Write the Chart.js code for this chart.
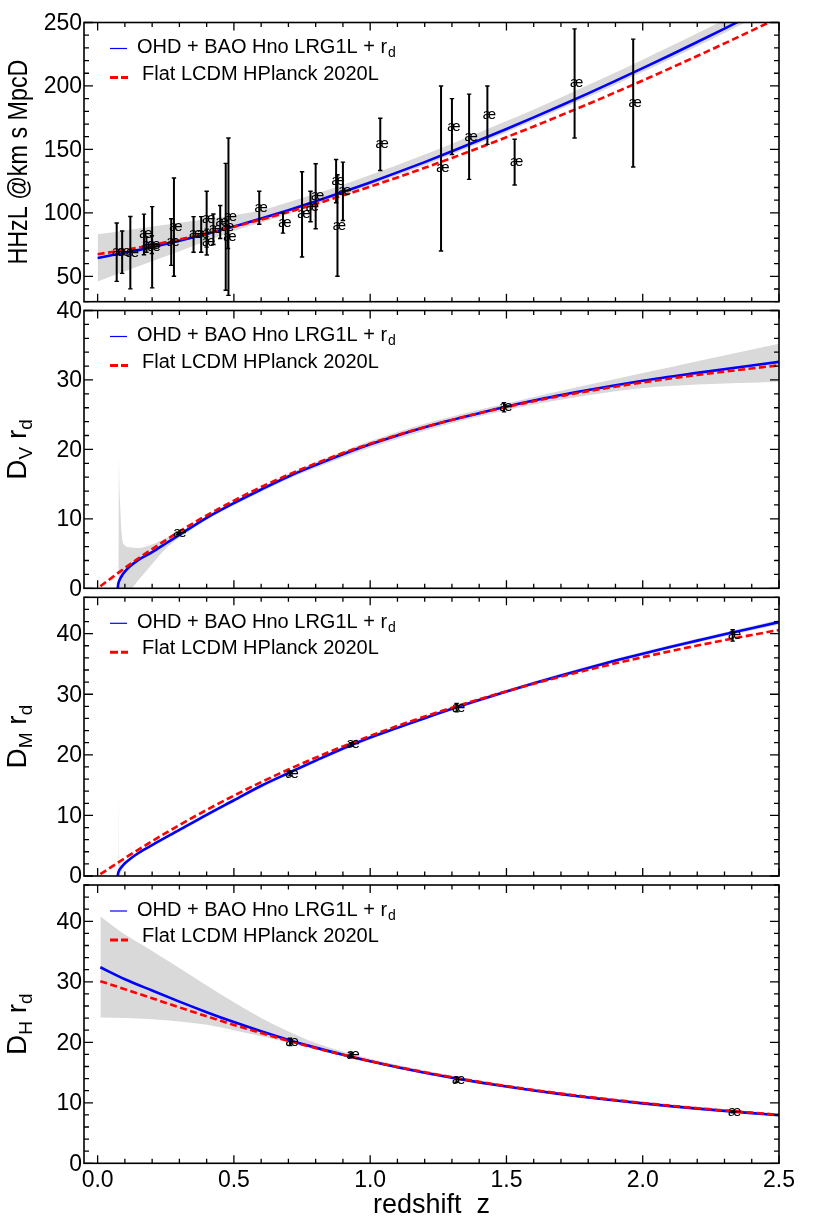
<!DOCTYPE html>
<html>
<head>
<meta charset="utf-8">
<script src="https://cdn.jsdelivr.net/npm/chart.js@4.4.1/dist/chart.umd.min.js"></script>
<style>
  html, body { margin: 0; padding: 0; background: #fff; }
  #wrap { position: relative; width: 814px; height: 1221px; }
  canvas { position: absolute; left: 0; }
</style>
</head>
<body>
<div id="wrap">
  <canvas id="hzChart" width="814" height="310" style="top:0px"></canvas>
  <canvas id="dvChart" width="814" height="304" style="top:296px"></canvas>
  <canvas id="dmChart" width="814" height="305" style="top:583px"></canvas>
  <canvas id="dhChart" width="814" height="350" style="top:871px"></canvas>
</div>
<script>
// --- Du lieu doc tu hinh ---

// Panel 1: H(z)
const hzZ = [0, 0.1, 0.2, 0.3, 0.4, 0.5, 0.6, 0.7, 0.8, 0.9, 1.0, 1.1, 1.2, 1.3, 1.4, 1.5, 1.6, 1.7, 1.8, 1.9, 2.0, 2.1, 2.2, 2.3, 2.4, 2.5];
const hzBlue = [64.5, 68.5, 73.0, 78.0, 83.4, 89.2, 95.5, 102.1, 109.1, 116.4, 124.0, 131.9, 140.0, 148.5, 157.2, 166.1, 175.2, 184.6, 194.2, 204.0, 214.0, 224.2, 234.6, 245.2, 256.0, 266.9];
const hzRed = [67.4, 70.8, 74.7, 79.1, 83.9, 89.1, 94.7, 100.7, 107.0, 113.7, 120.7, 127.9, 135.5, 143.3, 151.3, 159.6, 168.1, 176.9, 185.8, 195.0, 204.3, 213.9, 223.6, 233.5, 243.6, 253.9];
const hzBandHi = [83.2, 86.2, 89.2, 92.2, 95.2, 98.2, 102.0, 108.3, 115.0, 122.2, 129.8, 137.7, 145.9, 154.5, 163.3, 172.3, 181.5, 191.0, 200.7, 210.6, 220.7, 231.0, 241.5, 252.2, 263.2, 274.3];
const hzBandLo = [45.9, 53.9, 61.9, 69.8, 77.8, 85.8, 92.4, 99.2, 106.4, 113.8, 121.5, 129.4, 137.4, 145.9, 154.6, 163.5, 172.5, 181.8, 191.3, 201.0, 210.9, 221.0, 231.3, 241.8, 252.5, 263.3];
// diem OHD
const ohdZ = [0.07, 0.09, 0.12, 0.17, 0.179, 0.199, 0.2, 0.27, 0.28, 0.352, 0.38, 0.4, 0.4004, 0.4247, 0.4497, 0.47, 0.4783, 0.48, 0.593, 0.68, 0.75, 0.781, 0.8, 0.875, 0.88, 0.9, 1.037, 1.26, 1.3, 1.363, 1.43, 1.53, 1.75, 1.965];
const ohdH = [69, 69, 68.6, 83, 75, 75, 72.9, 77, 88.8, 83, 83, 95, 77, 87.1, 92.8, 89, 80.9, 97, 104, 92, 98.8, 105, 113.1, 125, 90, 117, 154, 135, 168, 160, 177, 140, 202, 186.5];
const ohdErr = [23, 16.7, 28.5, 16, 6, 7, 32, 18.4, 38.7, 14, 14, 22, 10.2, 12, 13, 50, 9, 62, 13, 8, 33.6, 12, 25.6, 17, 40, 23, 20.6, 65, 22, 33.6, 23, 18, 43, 50.4];

// Panel 2: D_V / r_d
const dvZBlue = [0.074, 0.075, 0.077, 0.08, 0.09, 0.1, 0.12, 0.15, 0.2, 0.25, 0.3, 0.4, 0.5, 0.6, 0.7, 0.8, 0.9, 1.0, 1.2, 1.4, 1.6, 1.8, 2.0, 2.2, 2.5];
const dvBlue = [0, 0.47, 0.82, 1.15, 1.88, 2.4, 3.2, 4.1, 5.2, 6.45, 7.7, 10.15, 12.27, 14.23, 16.1, 17.75, 19.3, 20.73, 23.2, 25.22, 27.03, 28.54, 29.89, 31.02, 32.61];
const dvZRed = [0.01, 0.05, 0.1, 0.15, 0.2, 0.3, 0.4, 0.5, 0.6, 0.7, 0.8, 0.9, 1.0, 1.2, 1.4, 1.6, 1.8, 2.0, 2.2, 2.5];
const dvRed = [0.3, 1.47, 2.93, 4.32, 5.65, 8.18, 10.5, 12.62, 14.58, 16.36, 17.98, 19.47, 20.83, 23.21, 25.22, 26.93, 28.39, 29.64, 30.72, 32.11];
const dvBandZ = [0.074, 0.0778, 0.078, 0.08, 0.083, 0.088, 0.098, 0.12, 0.15, 0.2, 0.25, 0.3, 0.4, 0.5, 0.6, 0.7, 0.8, 1.0, 1.2, 1.4, 1.5, 1.6, 1.8, 2.0, 2.2, 2.5];
const dvBandHi = [0, 0, 18.5, 14.5, 11.7, 7.9, 6.25, 5.9, 5.8, 6.3, 7.2, 8.1, 10.45, 12.55, 14.55, 16.45, 18.15, 21.2, 23.7, 25.7, 26.6, 27.55, 29.3, 31.0, 32.7, 35.2];
const dvBandLo = [0, 0, 0, 0, 0, 0, 0, 0, 1.2, 3.5, 5.7, 7.3, 9.85, 11.95, 13.9, 15.75, 17.35, 20.25, 22.7, 24.75, 25.65, 26.45, 27.8, 28.85, 29.35, 29.75];
const dvDataZ = [0.295, 1.491];
const dvData = [7.93, 26.07];
const dvDataErr = [0.15, 0.67];

// Panel 3: D_M / r_d
const dmZBlue = [0.074, 0.075, 0.077, 0.08, 0.09, 0.1, 0.12, 0.15, 0.2, 0.3, 0.4, 0.5, 0.6, 0.7, 0.8, 0.9, 1.0, 1.1, 1.2, 1.3, 1.4, 1.5, 1.6, 1.7, 1.8, 1.9, 2.0, 2.1, 2.2, 2.3, 2.4, 2.5];
const dmBlue = [0, 0.4, 0.7, 1.0, 1.6, 2.1, 2.85, 3.8, 5.1, 7.6, 10.1, 12.5, 14.9, 17.0, 19.05, 21.05, 22.85, 24.45, 26.05, 27.6, 29.05, 30.45, 31.8, 33.1, 34.35, 35.55, 36.7, 37.8, 38.85, 39.9, 40.9, 41.9];
const dZ = [0.01, 0.1, 0.2, 0.3, 0.4, 0.5, 0.6, 0.7, 0.8, 0.9, 1.0, 1.1, 1.2, 1.3, 1.4, 1.5, 1.6, 1.7, 1.8, 1.9, 2.0, 2.1, 2.2, 2.3, 2.4, 2.5];
const dmRed = [0.3, 2.95, 5.75, 8.41, 10.91, 13.27, 15.49, 17.58, 19.54, 21.39, 23.13, 24.77, 26.32, 27.78, 29.17, 30.48, 31.73, 32.91, 34.03, 35.10, 36.12, 37.10, 38.03, 38.92, 39.78, 40.60];
const dmBandZ = [0.074, 0.077, 0.0775, 0.079, 0.085, 0.1, 0.15, 0.2, 0.3, 0.5, 0.7, 1.0, 1.5, 2.0, 2.5];
const dmBandHi = [0, 0, 13, 2.5, 1.8, 2.4, 4.05, 5.35, 7.9, 12.8, 17.3, 23.15, 30.75, 37.0, 42.3];
const dmBandLo = [0, 0, 0, 0, 0.6, 1.8, 3.55, 4.85, 7.3, 12.2, 16.7, 22.55, 30.15, 36.4, 41.5];
const dmDataZ = [0.706, 0.930, 1.317, 2.330];
const dmData = [16.85, 21.71, 27.79, 39.71];
const dmDataErr = [0.32, 0.28, 0.69, 0.94];

// Panel 4: D_H / r_d
const dhBlue = [32.4, 30.42, 28.55, 26.72, 24.98, 23.34, 21.82, 20.4, 19.12, 17.95, 16.85, 15.87, 14.97, 14.14, 13.38, 12.68, 12.03, 11.43, 10.88, 10.37, 9.9, 9.45, 9.04, 8.66, 8.3, 7.96];
const dhRed = [30.1, 28.78, 27.28, 25.77, 24.30, 22.87, 21.52, 20.24, 19.04, 17.93, 16.89, 15.93, 15.05, 14.23, 13.47, 12.77, 12.12, 11.52, 10.97, 10.45, 9.98, 9.53, 9.11, 8.73, 8.37, 8.03];
const dhBandZ = [0.01, 0.1, 0.2, 0.3, 0.4, 0.5, 0.6, 0.7, 0.8, 0.9, 1.0, 1.2, 1.5, 2.0, 2.5];
const dhBandHi = [40.8, 37.8, 35.1, 32.3, 29.4, 26.6, 24.0, 21.8, 19.9, 18.5, 17.3, 15.35, 12.95, 10.15, 8.2];
const dhBandLo = [24.1, 24.0, 23.8, 23.45, 22.9, 22.0, 21.0, 20.0, 18.85, 17.7, 16.6, 14.75, 12.45, 9.7, 7.75];
const dhDataZ = [0.706, 0.930, 1.317, 2.330];
const dhData = [20.08, 17.88, 13.82, 8.52];
const dhDataErr = [0.60, 0.35, 0.42, 0.17];

// nhan truc va chu thich
const hzTicks = [50, 100, 150, 200, 250];
const dTicks = [0, 10, 20, 30, 40];
const xTicks = [0, 0.5, 1.0, 1.5, 2.0, 2.5];
const xTickLabels = ['0.0', '0.5', '1.0', '1.5', '2.0', '2.5'];
const legendBlue = 'OHD + BAO Hno LRG1L + r';
const legendRed = 'Flat LCDM HPlanck 2020L';

const FONT = '"Liberation Sans", Arial, Helvetica, sans-serif';
const BAND = '#d9d9d9';

// thong tin rieng cho tung panel
const panelInfo = {
  hzChart: { yMin: 30, yMax: 250, minor: 10, major: 50, ticks: hzTicks, title: [{ t: 'HHzL @km s MpcD' }], titleMax: 205 },
  dvChart: { yMin: 0, yMax: 40, minor: 2, major: 10, ticks: dTicks, title: [{ t: 'D' }, { t: 'V', sub: true }, { t: ' r' }, { t: 'd', sub: true }] },
  dmChart: { yMin: 0, yMax: 46, minor: 2, major: 10, ticks: dTicks, title: [{ t: 'D' }, { t: 'M', sub: true }, { t: ' r' }, { t: 'd', sub: true }] },
  dhChart: { yMin: 0, yMax: 46, minor: 2, major: 10, ticks: dTicks, title: [{ t: 'D' }, { t: 'H', sub: true }, { t: ' r' }, { t: 'd', sub: true }], xLabels: true }
};

function pts(xs, ys) {
  return xs.map((x, i) => ({ x: x, y: ys[i] }));
}

// Plugin ve khung, vach chia, chu thich, thanh sai so
const panelDecor = {
  id: 'panelDecor',
  afterDatasetsDraw(chart) {
    const info = panelInfo[chart.canvas.id];
    const ctx = chart.ctx;
    const a = chart.chartArea;
    const xs = chart.scales.x, ys = chart.scales.y;
    ctx.save();

    // thanh sai so + ky hieu diem
    chart.data.datasets.forEach((ds, i) => {
      if (!ds.errors) return;
      const meta = chart.getDatasetMeta(i);
      meta.data.forEach((el, j) => {
        const v = ds.data[j].y, e = ds.errors[j];
        const px = el.x, py = el.y;
        const yt = ys.getPixelForValue(v + e), yb = ys.getPixelForValue(v - e);
        ctx.strokeStyle = '#000';
        ctx.lineWidth = 2;
        ctx.beginPath();
        ctx.moveTo(px, yt); ctx.lineTo(px, yb);
        ctx.stroke();
        ctx.lineWidth = 1.4;
        ctx.beginPath();
        ctx.moveTo(px - 2.2, yt); ctx.lineTo(px + 2.2, yt);
        ctx.moveTo(px - 2.2, yb); ctx.lineTo(px + 2.2, yb);
        ctx.stroke();
        ctx.fillStyle = '#000';
        ctx.font = '15px ' + FONT;
        ctx.textAlign = 'center';
        ctx.textBaseline = 'alphabetic';
        ctx.fillText('æ', px + 2, py + 4);
      });
    });

    // khung
    ctx.strokeStyle = '#000';
    ctx.lineWidth = 1.6;
    ctx.strokeRect(a.left, a.top, a.right - a.left, a.bottom - a.top);

    // vach chia huong vao trong
    ctx.lineWidth = 1.3;
    ctx.beginPath();
    for (let k = 0; k <= 25; k++) {
      const px = xs.getPixelForValue(k / 10);
      const len = k % 5 === 0 ? 8 : 4.5;
      ctx.moveTo(px, a.bottom); ctx.lineTo(px, a.bottom - len);
      ctx.moveTo(px, a.top); ctx.lineTo(px, a.top + len);
    }
    for (let v = info.yMin; v <= info.yMax + 1e-6; v += info.minor) {
      const py = ys.getPixelForValue(v);
      const len = Math.abs(v % info.major) < 1e-6 ? 9 : 5;
      ctx.moveTo(a.left, py); ctx.lineTo(a.left + len, py);
      ctx.moveTo(a.right, py); ctx.lineTo(a.right - len, py);
    }
    ctx.stroke();

    // nhan truc y
    ctx.fillStyle = '#000';
    ctx.font = '23px ' + FONT;
    ctx.textAlign = 'right';
    ctx.textBaseline = 'middle';
    info.ticks.forEach(v => {
      ctx.fillText(String(v), a.left - 2, ys.getPixelForValue(v) + 1);
    });

    // nhan truc x (chi panel cuoi)
    if (info.xLabels) {
      ctx.textAlign = 'center';
      ctx.textBaseline = 'alphabetic';
      xTicks.forEach((v, i) => {
        ctx.fillText(xTickLabels[i], xs.getPixelForValue(v), a.bottom + 24);
      });
      ctx.font = '27px ' + FONT;
      ctx.fillText('redshift  z', (a.left + a.right) / 2, a.bottom + 50);
    }

    // tieu de truc y (xoay)
    let w = 0;
    info.title.forEach(p => {
      ctx.font = (p.sub ? 19 : 28) + 'px ' + FONT;
      w += ctx.measureText(p.t).width;
    });
    ctx.save();
    ctx.translate(info.title.length > 1 ? 26 : 27, (a.top + a.bottom) / 2);
    ctx.rotate(-Math.PI / 2);
    if (info.titleMax && w > info.titleMax) {
      ctx.scale(info.titleMax / w, 1);
    }
    ctx.textAlign = 'left';
    ctx.textBaseline = 'alphabetic';
    let cx = -w / 2;
    info.title.forEach(p => {
      ctx.font = (p.sub ? 19 : 28) + 'px ' + FONT;
      ctx.fillText(p.t, cx, p.sub ? 6 : 0);
      cx += ctx.measureText(p.t).width;
    });
    ctx.restore();

    // chu thich
    const T = a.top;
    ctx.strokeStyle = '#0000ff';
    ctx.lineWidth = 1.2;
    ctx.beginPath();
    ctx.moveTo(110, T + 26); ctx.lineTo(127, T + 26);
    ctx.stroke();
    ctx.strokeStyle = '#ff0000';
    ctx.lineWidth = 3;
    ctx.beginPath();
    ctx.moveTo(110, T + 55); ctx.lineTo(118, T + 55);
    ctx.moveTo(121, T + 55); ctx.lineTo(128, T + 55);
    ctx.stroke();
    ctx.fillStyle = '#000';
    ctx.textAlign = 'left';
    ctx.textBaseline = 'alphabetic';
    ctx.font = '20px ' + FONT;
    ctx.fillText(legendBlue, 137, T + 30.5, 262);
    const lw = Math.min(ctx.measureText(legendBlue).width, 262);
    ctx.font = '14px ' + FONT;
    ctx.fillText('d', 137 + lw + 1, T + 34.5);
    ctx.font = '20px ' + FONT;
    ctx.fillText(legendRed, 142, T + 57, 250);

    ctx.restore();
  }
};

function makePanel(id, padTop, padBottom, band, blue, red, pointsData) {
  const info = panelInfo[id];
  const datasets = [
    { data: band[0], borderColor: 'rgba(0,0,0,0)', borderWidth: 0, pointRadius: 0, fill: false, order: 3, cubicInterpolationMode: 'monotone' },
    { data: band[1], borderColor: 'rgba(0,0,0,0)', borderWidth: 0, pointRadius: 0, fill: '-1', backgroundColor: BAND, order: 3, cubicInterpolationMode: 'monotone' },
    { data: blue, borderColor: '#0000ff', borderWidth: 2.6, pointRadius: 0, fill: false, order: 2, cubicInterpolationMode: 'monotone' },
    { data: red, borderColor: '#ff0000', borderWidth: 2.6, borderDash: [7, 3.5], pointRadius: 0, fill: false, order: 1, cubicInterpolationMode: 'monotone' },
    { data: pointsData.pts, errors: pointsData.err, showLine: false, pointRadius: 0, order: 0 }
  ];
  new Chart(document.getElementById(id), {
    type: 'line',
    data: { datasets: datasets },
    options: {
      responsive: false,
      animation: false,
      devicePixelRatio: 1,
      layout: { padding: { left: 84, right: 35, top: padTop, bottom: padBottom } },
      plugins: { legend: { display: false }, tooltip: { enabled: false } },
      scales: {
        x: { type: 'linear', min: -0.05, max: 2.5, display: false },
        y: { type: 'linear', min: info.yMin, max: info.yMax, display: false }
      }
    },
    plugins: [panelDecor]
  });
}

document.addEventListener('DOMContentLoaded', () => {
  // --- 1. H(z) ---
  makePanel('hzChart', 22.5, 8.3,
    [pts(hzZ, hzBandLo), pts(hzZ, hzBandHi)],
    pts(hzZ, hzBlue), pts(hzZ, hzRed),
    { pts: pts(ohdZ, ohdH), err: ohdErr });

  // --- 2. D_V / r_d ---
  makePanel('dvChart', 14.5, 11.7,
    [pts(dvBandZ, dvBandLo), pts(dvBandZ, dvBandHi)],
    pts(dvZBlue, dvBlue), pts(dvZRed, dvRed),
    { pts: pts(dvDataZ, dvData), err: dvDataErr });

  // --- 3. D_M / r_d ---
  makePanel('dmChart', 14.3, 12,
    [pts(dmBandZ, dmBandLo), pts(dmBandZ, dmBandHi)],
    pts(dmZBlue, dmBlue), pts(dZ, dmRed),
    { pts: pts(dmDataZ, dmData), err: dmDataErr });

  // --- 4. D_H / r_d ---
  makePanel('dhChart', 14, 57.7,
    [pts(dhBandZ, dhBandLo), pts(dhBandZ, dhBandHi)],
    pts(dZ, dhBlue), pts(dZ, dhRed),
    { pts: pts(dhDataZ, dhData), err: dhDataErr });
});
</script>
</body>
</html>
